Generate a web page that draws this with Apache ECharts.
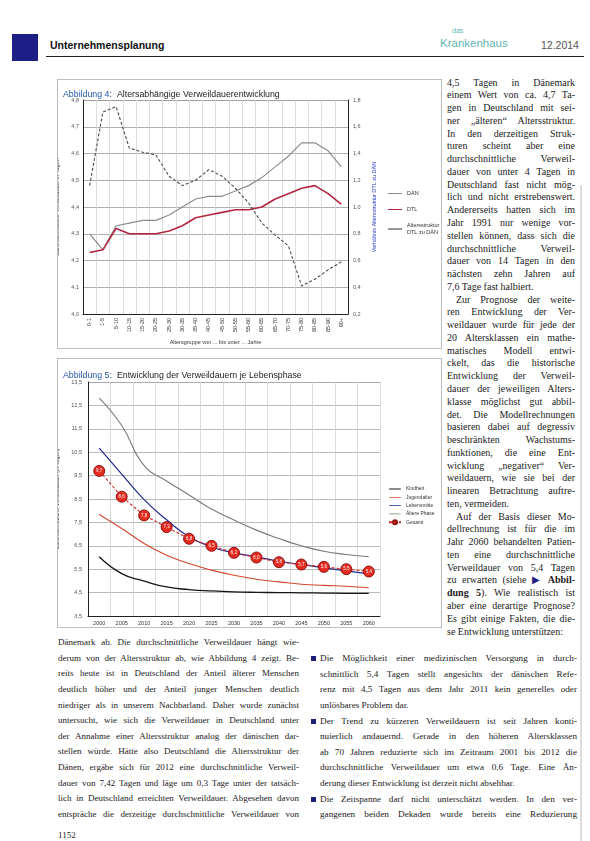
<!DOCTYPE html>
<html>
<head>
<meta charset="utf-8">
<script src="https://cdn.jsdelivr.net/npm/echarts@6/dist/echarts.min.js"></script>
<style>
  body { margin: 0; background: #fff; }
  #page { position: relative; width: 590px; height: 841px; overflow: hidden; background: #fff;
          font-family: "Liberation Serif", "DejaVu Serif", serif; color: #222; }
  .abs { position: absolute; }
  .box { position: absolute; border: 1px solid #bdbdbd; background: #fff; }
  .col div { white-space: nowrap; text-align: justify; text-align-last: justify; }
  .col div.last { text-align-last: left; }
  .blt { position: absolute; width: 5px; height: 5px; background: #1d1f7a; }
</style>
</head>
<body>
<div id="page">
  <!-- header -->
  <div class="abs" style="left:12px;top:34px;width:26px;height:27px;background:#1d1f86;"></div>
  <div class="abs" style="left:50px;top:39px;font:bold 10.5px 'Liberation Sans',sans-serif;color:#111;">Unternehmensplanung</div>
  <div class="abs" style="left:46px;top:56px;width:538px;height:1px;background:#222;"></div>
  <div class="abs" style="left:452px;top:27px;font:7px 'Liberation Sans',sans-serif;color:#5fb5b0;">das</div>
  <div class="abs" style="left:440px;top:37px;font:11.5px 'Liberation Sans',sans-serif;color:#5fb5b0;">Krankenhaus</div>
  <div class="abs" style="left:541px;top:39px;font:10.5px 'Liberation Sans',sans-serif;color:#555;">12.2014</div>

  <!-- charts -->
  <div class="box" style="left:57px;top:79px;width:383px;height:268px;"><div id="c1" style="width:383px;height:268px;"></div></div>
  <div class="box" style="left:57px;top:358px;width:383px;height:268px;"><div id="c2" style="width:383px;height:268px;"></div></div>

  <div class="abs" style="left:580px;top:185px;width:2px;height:656px;background:#dcdcdc;"></div>

  <!-- right text column -->
  <div class="abs col" style="left:447px;top:76.6px;width:128px;font-size:10px;line-height:12.77px;">
    <div>4,5 Tagen in Dänemark</div>
    <div>einem Wert von ca. 4,7 Ta-</div>
    <div>gen in Deutschland mit sei-</div>
    <div>ner „älteren“ Altersstruktur.</div>
    <div>In den derzeitigen Struk-</div>
    <div>turen scheint aber eine</div>
    <div>durchschnittliche Verweil-</div>
    <div>dauer von unter 4 Tagen in</div>
    <div>Deutschland fast nicht mög-</div>
    <div>lich und nicht erstrebenswert.</div>
    <div>Andererseits hatten sich im</div>
    <div>Jahr 1991 nur wenige vor-</div>
    <div>stellen können, dass sich die</div>
    <div>durchschnittliche Verweil-</div>
    <div>dauer von 14 Tagen in den</div>
    <div>nächsten zehn Jahren auf</div>
    <div class="last">7,6 Tage fast halbiert.</div>
    <div style="padding-left:9px;">Zur Prognose der weite-</div>
    <div>ren Entwicklung der Ver-</div>
    <div>weildauer wurde für jede der</div>
    <div>20 Altersklassen ein mathe-</div>
    <div>matisches Modell entwi-</div>
    <div>ckelt, das die historische</div>
    <div>Entwicklung der Verweil-</div>
    <div>dauer der jeweiligen Alters-</div>
    <div>klasse möglichst gut abbil-</div>
    <div>det. Die Modellrechnungen</div>
    <div>basieren dabei auf degressiv</div>
    <div>beschränkten Wachstums-</div>
    <div>funktionen, die eine Ent-</div>
    <div>wicklung „negativer“ Ver-</div>
    <div>weildauern, wie sie bei der</div>
    <div>linearen Betrachtung auftre-</div>
    <div class="last">ten, vermeiden.</div>
    <div style="padding-left:9px;">Auf der Basis dieser Mo-</div>
    <div>dellrechnung ist für die im</div>
    <div>Jahr 2060 behandelten Patien-</div>
    <div>ten eine durchschnittliche</div>
    <div>Verweildauer von 5,4 Tagen</div>
    <div>zu erwarten (siehe <b><span style="color:#1d1f86;">▶</span> Abbil-</b></div>
    <div><b>dung 5</b>). Wie realistisch ist</div>
    <div>aber eine derartige Prognose?</div>
    <div>Es gibt einige Fakten, die die-</div>
    <div class="last">se Entwicklung unterstützen:</div>
  </div>

  <!-- bottom left column -->
  <div class="abs col" style="left:58px;top:635.2px;width:241px;font-size:9px;line-height:15.6px;">
    <div>Dänemark ab. Die durchschnittliche Verweildauer hängt wie-</div>
    <div>derum von der Altersstruktur ab, wie Abbildung 4 zeigt. Be-</div>
    <div>reits heute ist in Deutschland der Anteil älterer Menschen</div>
    <div>deutlich höher und der Anteil junger Menschen deutlich</div>
    <div>niedriger als in unserem Nachbarland. Daher wurde zunächst</div>
    <div>untersucht, wie sich die Verweildauer in Deutschland unter</div>
    <div>der Annahme einer Altersstruktur analog der dänischen dar-</div>
    <div>stellen würde. Hätte also Deutschland die Altersstruktur der</div>
    <div>Dänen, ergäbe sich für 2012 eine durchschnittliche Verweil-</div>
    <div>dauer von 7,42 Tagen und läge um 0,3 Tage unter der tatsäch-</div>
    <div>lich in Deutschland erreichten Verweildauer. Abgesehen davon</div>
    <div>entspräche die derzeitige durchschnittliche Verweildauer von</div>
  </div>

  <!-- bottom right bullets -->
  <div class="blt" style="left:311px;top:656px;"></div>
  <div class="blt" style="left:311px;top:719px;"></div>
  <div class="blt" style="left:311px;top:797px;"></div>
  <div class="abs col" style="left:320px;top:651.2px;width:257px;font-size:9.2px;line-height:15.6px;">
    <div>Die Möglichkeit einer medizinischen Versorgung in durch-</div>
    <div>schnittlich 5,4 Tagen stellt angesichts der dänischen Refe-</div>
    <div>renz mit 4,5 Tagen aus dem Jahr 2011 kein generelles oder</div>
    <div class="last">unlösbares Problem dar.</div>
    <div>Der Trend zu kürzeren Verweildauern ist seit Jahren konti-</div>
    <div>nuierlich andauernd. Gerade in den höheren Altersklassen</div>
    <div>ab 70 Jahren reduzierte sich im Zeitraum 2001 bis 2012 die</div>
    <div>durchschnittliche Verweildauer um etwa 0,6 Tage. Eine Än-</div>
    <div class="last">derung dieser Entwicklung ist derzeit nicht absehbar.</div>
    <div>Die Zeitspanne darf nicht unterschätzt werden. In den ver-</div>
    <div>gangenen beiden Dekaden wurde bereits eine Reduzierung</div>
  </div>

  <div class="abs" style="left:58px;top:830px;font-size:9px;">1152</div>
</div>

<script>
// Abbildung 4 data
var ageGroups = ['0-1', '1-5', '5-10', '10-15', '15-20', '20-25', '25-30', '30-35', '35-40', '40-45',
  '45-50', '50-55', '55-60', '60-65', '65-70', '70-75', '75-80', '80-85', '85-90', '90+']
var losDan = [4.30, 4.24, 4.33, 4.34, 4.35, 4.35, 4.37, 4.40, 4.43, 4.44, 4.44, 4.46, 4.48, 4.51, 4.55, 4.59, 4.64, 4.64, 4.61, 4.55]
var losDtl = [4.23, 4.24, 4.32, 4.30, 4.30, 4.30, 4.31, 4.33, 4.36, 4.37, 4.38, 4.39, 4.39, 4.40, 4.43, 4.45, 4.47, 4.48, 4.45, 4.41]
var ageRatio = [1.16, 1.71, 1.75, 1.44, 1.41, 1.39, 1.23, 1.16, 1.20, 1.28, 1.23, 1.14, 1.03, 0.88, 0.79, 0.71, 0.41, 0.46, 0.53, 0.59]

// Abbildung 5 data
var years = ['2000', '2005', '2010', '2015', '2020', '2025', '2030', '2035', '2040', '2045', '2050', '2055', '2060']
var kindheit = [6.03, 5.31, 4.99, 4.74, 4.63, 4.57, 4.53, 4.51, 4.50, 4.49, 4.48, 4.47, 4.47]
var jugend = [7.84, 7.24, 6.60, 6.10, 5.74, 5.46, 5.24, 5.07, 4.96, 4.86, 4.81, 4.77, 4.71]
var lebensmitte = [10.67, 9.56, 8.47, 7.61, 6.89, 6.45, 6.20, 6.03, 5.84, 5.70, 5.56, 5.43, 5.30]
var aeltere = [12.81, 11.64, 9.93, 9.27, 8.67, 8.07, 7.60, 7.17, 6.81, 6.50, 6.27, 6.13, 6.03]
var gesamt = [9.7, 8.6, 7.8, 7.3, 6.8, 6.5, 6.2, 6.0, 5.8, 5.7, 5.6, 5.5, 5.4]

var sans = '"Liberation Sans", "Open Sans", sans-serif'
// thin line icon for the legend (tiny corner dots keep the box 14x6)
var lineIcon = 'path://M0,0h0.05v0.05h-0.05z M0,2.5h14v1h-14z M13.95,5.95h0.05v0.05h-0.05z'
function comma(v) { return (Math.round(v * 10) / 10).toFixed(1).replace('.', ',') }

function titleStyle() {
  return {
    rich: {
      a: { fontSize: 8.8, lineHeight: 10, color: '#2356a8', fontFamily: sans, fontWeight: 'normal' },
      b: { fontSize: 8.8, lineHeight: 10, color: '#222', fontFamily: sans, fontWeight: 'normal' }
    }
  }
}

var chart1 = echarts.init(document.getElementById('c1'))
var option1 = {
  animation: false,
  textStyle: { fontFamily: sans },
  title: {
    left: 5, top: 6, padding: 0,
    text: '{a|Abbildung 4:} {b|Altersabhängige Verweildauerentwicklung}',
    textStyle: titleStyle()
  },
  grid: { left: 25, right: 93, top: 20, bottom: 34, outerBoundsMode: 'none' },
  legend: {
    orient: 'vertical', left: 325, top: 105,
    itemWidth: 14, itemHeight: 6, itemGap: 9,
    textStyle: { fontSize: 5.5, color: '#333', lineHeight: 7 },
    data: [
      { name: 'DÄN', icon: lineIcon },
      { name: 'DTL', icon: lineIcon },
      { name: 'Altersstruktur\nDTL zu DÄN', icon: lineIcon }
    ]
  },
  xAxis: {
    type: 'category',
    data: ageGroups,
    name: 'Altersgruppe von ... bis unter ... Jahre',
    nameLocation: 'middle', nameGap: 23,
    nameTextStyle: { fontSize: 5.5, color: '#333' },
    axisLine: { lineStyle: { color: '#222' } },
    axisTick: { show: false },
    axisLabel: { rotate: 90, fontSize: 5.5, color: '#333', margin: 4, interval: 0 },
    splitLine: { show: true, lineStyle: { color: '#d6d6d6', width: 0.8 } }
  },
  yAxis: [
    {
      type: 'value', min: 4.0, max: 4.8001, interval: 0.1,
      name: 'Durchschnittliche Verweildauer in Tagen',
      nameLocation: 'middle', nameGap: 17,
      nameTextStyle: { fontSize: 5.5, color: '#333' },
      axisLine: { show: true, lineStyle: { color: '#222' } },
      axisTick: { show: false },
      axisLabel: { fontSize: 5.5, color: '#555', margin: 4, formatter: comma, showMaxLabel: true },
      splitLine: { lineStyle: { color: '#9a9a9a', width: 0.8 } }
    },
    {
      type: 'value', min: 0.2, max: 1.8001, interval: 0.2,
      name: 'Verhältnis Altersstruktur DTL zu DÄN',
      nameLocation: 'middle', nameGap: 20,
      nameTextStyle: { fontSize: 5.5, color: '#2a3cc0' },
      axisLine: { show: true, lineStyle: { color: '#222' } },
      axisTick: { show: false },
      axisLabel: { fontSize: 5.5, color: '#555', margin: 5, formatter: comma, showMaxLabel: true },
      splitLine: { show: false }
    }
  ],
  series: [
    {
      name: 'DÄN', type: 'line', data: losDan, symbol: 'none',
      lineStyle: { color: '#8c8c8c', width: 1.2 }, itemStyle: { color: '#8c8c8c' }
    },
    {
      name: 'DTL', type: 'line', data: losDtl, symbol: 'none',
      lineStyle: { color: '#b3263f', width: 1.6 }, itemStyle: { color: '#b3263f' }
    },
    {
      name: 'Altersstruktur\nDTL zu DÄN', type: 'line', yAxisIndex: 1, data: ageRatio, symbol: 'none',
      lineStyle: { color: '#4a4a4a', width: 1.1, type: [3, 2] }, itemStyle: { color: '#333' }
    }
  ]
}
chart1.setOption(option1)

var chart2 = echarts.init(document.getElementById('c2'))
var option2 = {
  animation: false,
  textStyle: { fontFamily: sans },
  title: {
    left: 5, top: 8, padding: 0,
    text: '{a|Abbildung 5:} {b|Entwicklung der Verweildauern je Lebensphase}',
    textStyle: titleStyle()
  },
  grid: { left: 30, right: 61, top: 23, bottom: 11, outerBoundsMode: 'none' },
  legend: {
    orient: 'vertical', left: 325, top: 122,
    itemWidth: 12, itemHeight: 5, itemGap: 2.3,
    textStyle: { fontSize: 5, color: '#333', lineHeight: 6 },
    data: [
      { name: 'Kindheit', icon: lineIcon },
      { name: 'Jugendalter', icon: lineIcon },
      { name: 'Lebensmitte', icon: lineIcon },
      { name: 'Ältere Phase', icon: lineIcon },
      { name: 'Gesamt' }
    ]
  },
  xAxis: {
    type: 'category',
    data: years,
    axisLine: { lineStyle: { color: '#222' } },
    axisTick: { show: false },
    axisLabel: { fontSize: 5.5, color: '#333', margin: 4, interval: 0 },
    splitLine: { show: true, lineStyle: { color: '#d0d0d0', width: 0.8 } }
  },
  yAxis: {
    type: 'value', min: 3.5, max: 13.5001, interval: 1,
    name: 'Durchschnittliche Verweildauer (in Tagen)',
    nameLocation: 'middle', nameGap: 19,
    nameTextStyle: { fontSize: 5.5, color: '#333' },
    axisLine: { show: true, lineStyle: { color: '#222' } },
    axisTick: { show: false },
    axisLabel: { fontSize: 5.5, color: '#555', margin: 6, formatter: comma, showMaxLabel: true },
    splitLine: { lineStyle: { color: '#a8a8a8', width: 0.8 } }
  },
  series: [
    {
      name: 'Kindheit', type: 'line', data: kindheit, symbol: 'none', smooth: true,
      lineStyle: { color: '#151515', width: 1.3 }, itemStyle: { color: '#151515' }
    },
    {
      name: 'Jugendalter', type: 'line', data: jugend, symbol: 'none', smooth: true,
      lineStyle: { color: '#d2472a', width: 1.1 }, itemStyle: { color: '#d2472a' }
    },
    {
      name: 'Lebensmitte', type: 'line', data: lebensmitte, symbol: 'none', smooth: true,
      lineStyle: { color: '#1f2a8a', width: 1.2 }, itemStyle: { color: '#1f2a8a' }
    },
    {
      name: 'Ältere Phase', type: 'line', data: aeltere, symbol: 'none', smooth: true,
      lineStyle: { color: '#777b78', width: 1.1 }, itemStyle: { color: '#6f8a74' }
    },
    {
      name: 'Gesamt', type: 'line', data: gesamt, z: 5,
      symbol: 'circle', symbolSize: 11,
      lineStyle: { color: '#d42323', width: 1.1, type: [3, 2] },
      itemStyle: { color: '#e52a1f', borderColor: '#8e1212', borderWidth: 1 },
      label: {
        show: true, position: 'inside', fontSize: 4.5, color: '#fff',
        formatter: function (p) { return comma(p.value) }
      }
    }
  ]
}
chart2.setOption(option2)
</script>
</body>
</html>
